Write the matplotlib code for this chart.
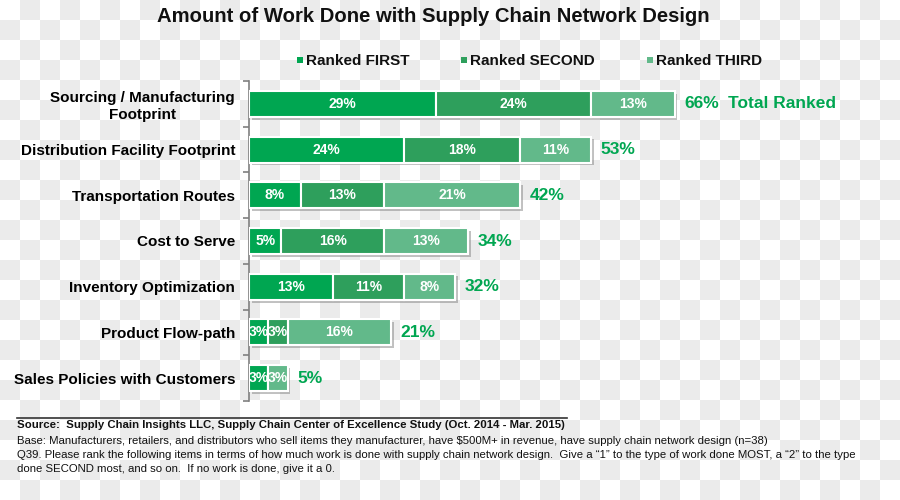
import numpy as np
import matplotlib
matplotlib.use("Agg")
import matplotlib.pyplot as plt
import matplotlib.patheffects as pe
from matplotlib.lines import Line2D

categories = ["Sourcing / Manufacturing\nFootprint", "Distribution Facility Footprint",
              "Transportation Routes", "Cost to Serve", "Inventory Optimization",
              "Product Flow-path", "Sales Policies with Customers"]
first = [29, 24, 8, 5, 13, 3, 3]
second = [24, 18, 13, 16, 11, 3, 0]
third = [13, 11, 21, 13, 8, 16, 3]
totals = [66, 53, 42, 34, 32, 21, 5]
series_names = ["Ranked FIRST", "Ranked SECOND", "Ranked THIRD"]
colors = ["#00a651", "#2e9f5c", "#62b98a"]
label_green = "#00a651"

W, H = 900, 500
plt.rcParams['font.family'] = ['Liberation Sans', 'DejaVu Sans']
fig = plt.figure(figsize=(9, 5), dpi=100)
fig.patch.set_facecolor('white')

# checkerboard background
yy, xx = np.mgrid[0:H, 0:W]
mask = ((xx // 20) + (yy // 20)) % 2 == 1
img = np.ones((H, W, 3))
img[mask] = 0.925
fig.figimage(img, 0, 0, zorder=-10, origin='upper')

def fx(px):
    return px / W

def fy(py):
    return 1 - py / H

ax = fig.add_axes([fx(249), fy(401), fx(894) - fx(249), (401 - 81) / H])
ax.set_facecolor('none')
ax.set_zorder(1)
ax.set_xlim(0, 100)
ax.set_ylim(6.5, -0.5)

ypos = np.arange(len(categories))
shadow = [pe.SimplePatchShadow(offset=(2, -2), shadow_rgbFace='#777777', alpha=0.45), pe.Normal()]
left = np.zeros(len(categories))
for vals, col in zip([first, second, third], colors):
    vals = np.array(vals, dtype=float)
    bars = ax.barh(ypos, vals, left=left, height=0.57, color=col, edgecolor='white',
                   linewidth=1.5, zorder=3)
    for b in bars:
        b.set_path_effects(shadow)
    for y, l, v in zip(ypos, left, vals):
        if v > 0:
            ax.text(l + v / 2, y, f"{int(v)}%", ha='center', va='center', color='white',
                    fontsize=10, fontweight='bold', zorder=5)
    left = left + vals

for y, end, t in zip(ypos, left, totals):
    ax.text(end + 1.5, y, f"{t}%", ha='left', va='center', color=label_green,
            fontsize=12.5, fontweight='bold', zorder=5)
ax.text(left[0] + 8.3, 0, "Total Ranked", ha='left', va='center', color=label_green,
        fontsize=12.5, fontweight='bold', zorder=5)

for s in ['top', 'right', 'bottom']:
    ax.spines[s].set_visible(False)
ax.spines['left'].set_color('#808080')
ax.spines['left'].set_linewidth(1.2)
ax.set_xticks([])
ax.set_yticks(np.arange(-0.5, 7, 1.0))
ax.set_yticklabels([])
ax.tick_params(axis='y', which='major', length=4, color='#808080', width=1.2)
ax.set_yticks(ypos, minor=True)
ax.set_yticklabels(categories, minor=True, fontsize=11, fontweight='bold', ha='right')
ax.tick_params(axis='y', which='minor', length=0, pad=10)
for lbl in ax.get_yticklabels(minor=True):
    lbl.set_multialignment('center')

# title
fig.text(fx(433), fy(16), "Amount of Work Done with Supply Chain Network Design",
         ha='center', va='center', fontsize=14.6, fontweight='bold', color='#111111')

# legend
leg_x = [297, 461, 647]
for x, name, col in zip(leg_x, series_names, colors):
    fig.patches.append(plt.Rectangle((fx(x), fy(63)), 6 / W, 6 / H, transform=fig.transFigure,
                                     facecolor=col, edgecolor='none', figure=fig))
    fig.text(fx(x + 9), fy(61), name, ha='left', va='center', fontsize=11,
             fontweight='bold', color='#111111')

# footer
fig.add_artist(Line2D([fx(17), fx(567)], [fy(418), fy(418)], transform=fig.transFigure,
                      color='#333333', linewidth=1.2))
fs = 8.2
fig.text(fx(17), fy(425), "Source:  Supply Chain Insights LLC, Supply Chain Center of Excellence Study (Oct. 2014 - Mar. 2015)",
         ha='left', va='center', fontsize=fs, fontweight='bold', color='#111111')
fig.text(fx(17), fy(441), "Base: Manufacturers, retailers, and distributors who sell items they manufacturer, have $500M+ in revenue, have supply chain network design (n=38)",
         ha='left', va='center', fontsize=fs, color='#111111')
fig.text(fx(17), fy(455), "Q39. Please rank the following items in terms of how much work is done with supply chain network design.  Give a \u201c1\u201d to the type of work done MOST, a \u201c2\u201d to the type",
         ha='left', va='center', fontsize=fs, color='#111111')
fig.text(fx(17), fy(469), "done SECOND most, and so on.  If no work is done, give it a 0.",
         ha='left', va='center', fontsize=fs, color='#111111')

fig.savefig("out.png", dpi=100)
